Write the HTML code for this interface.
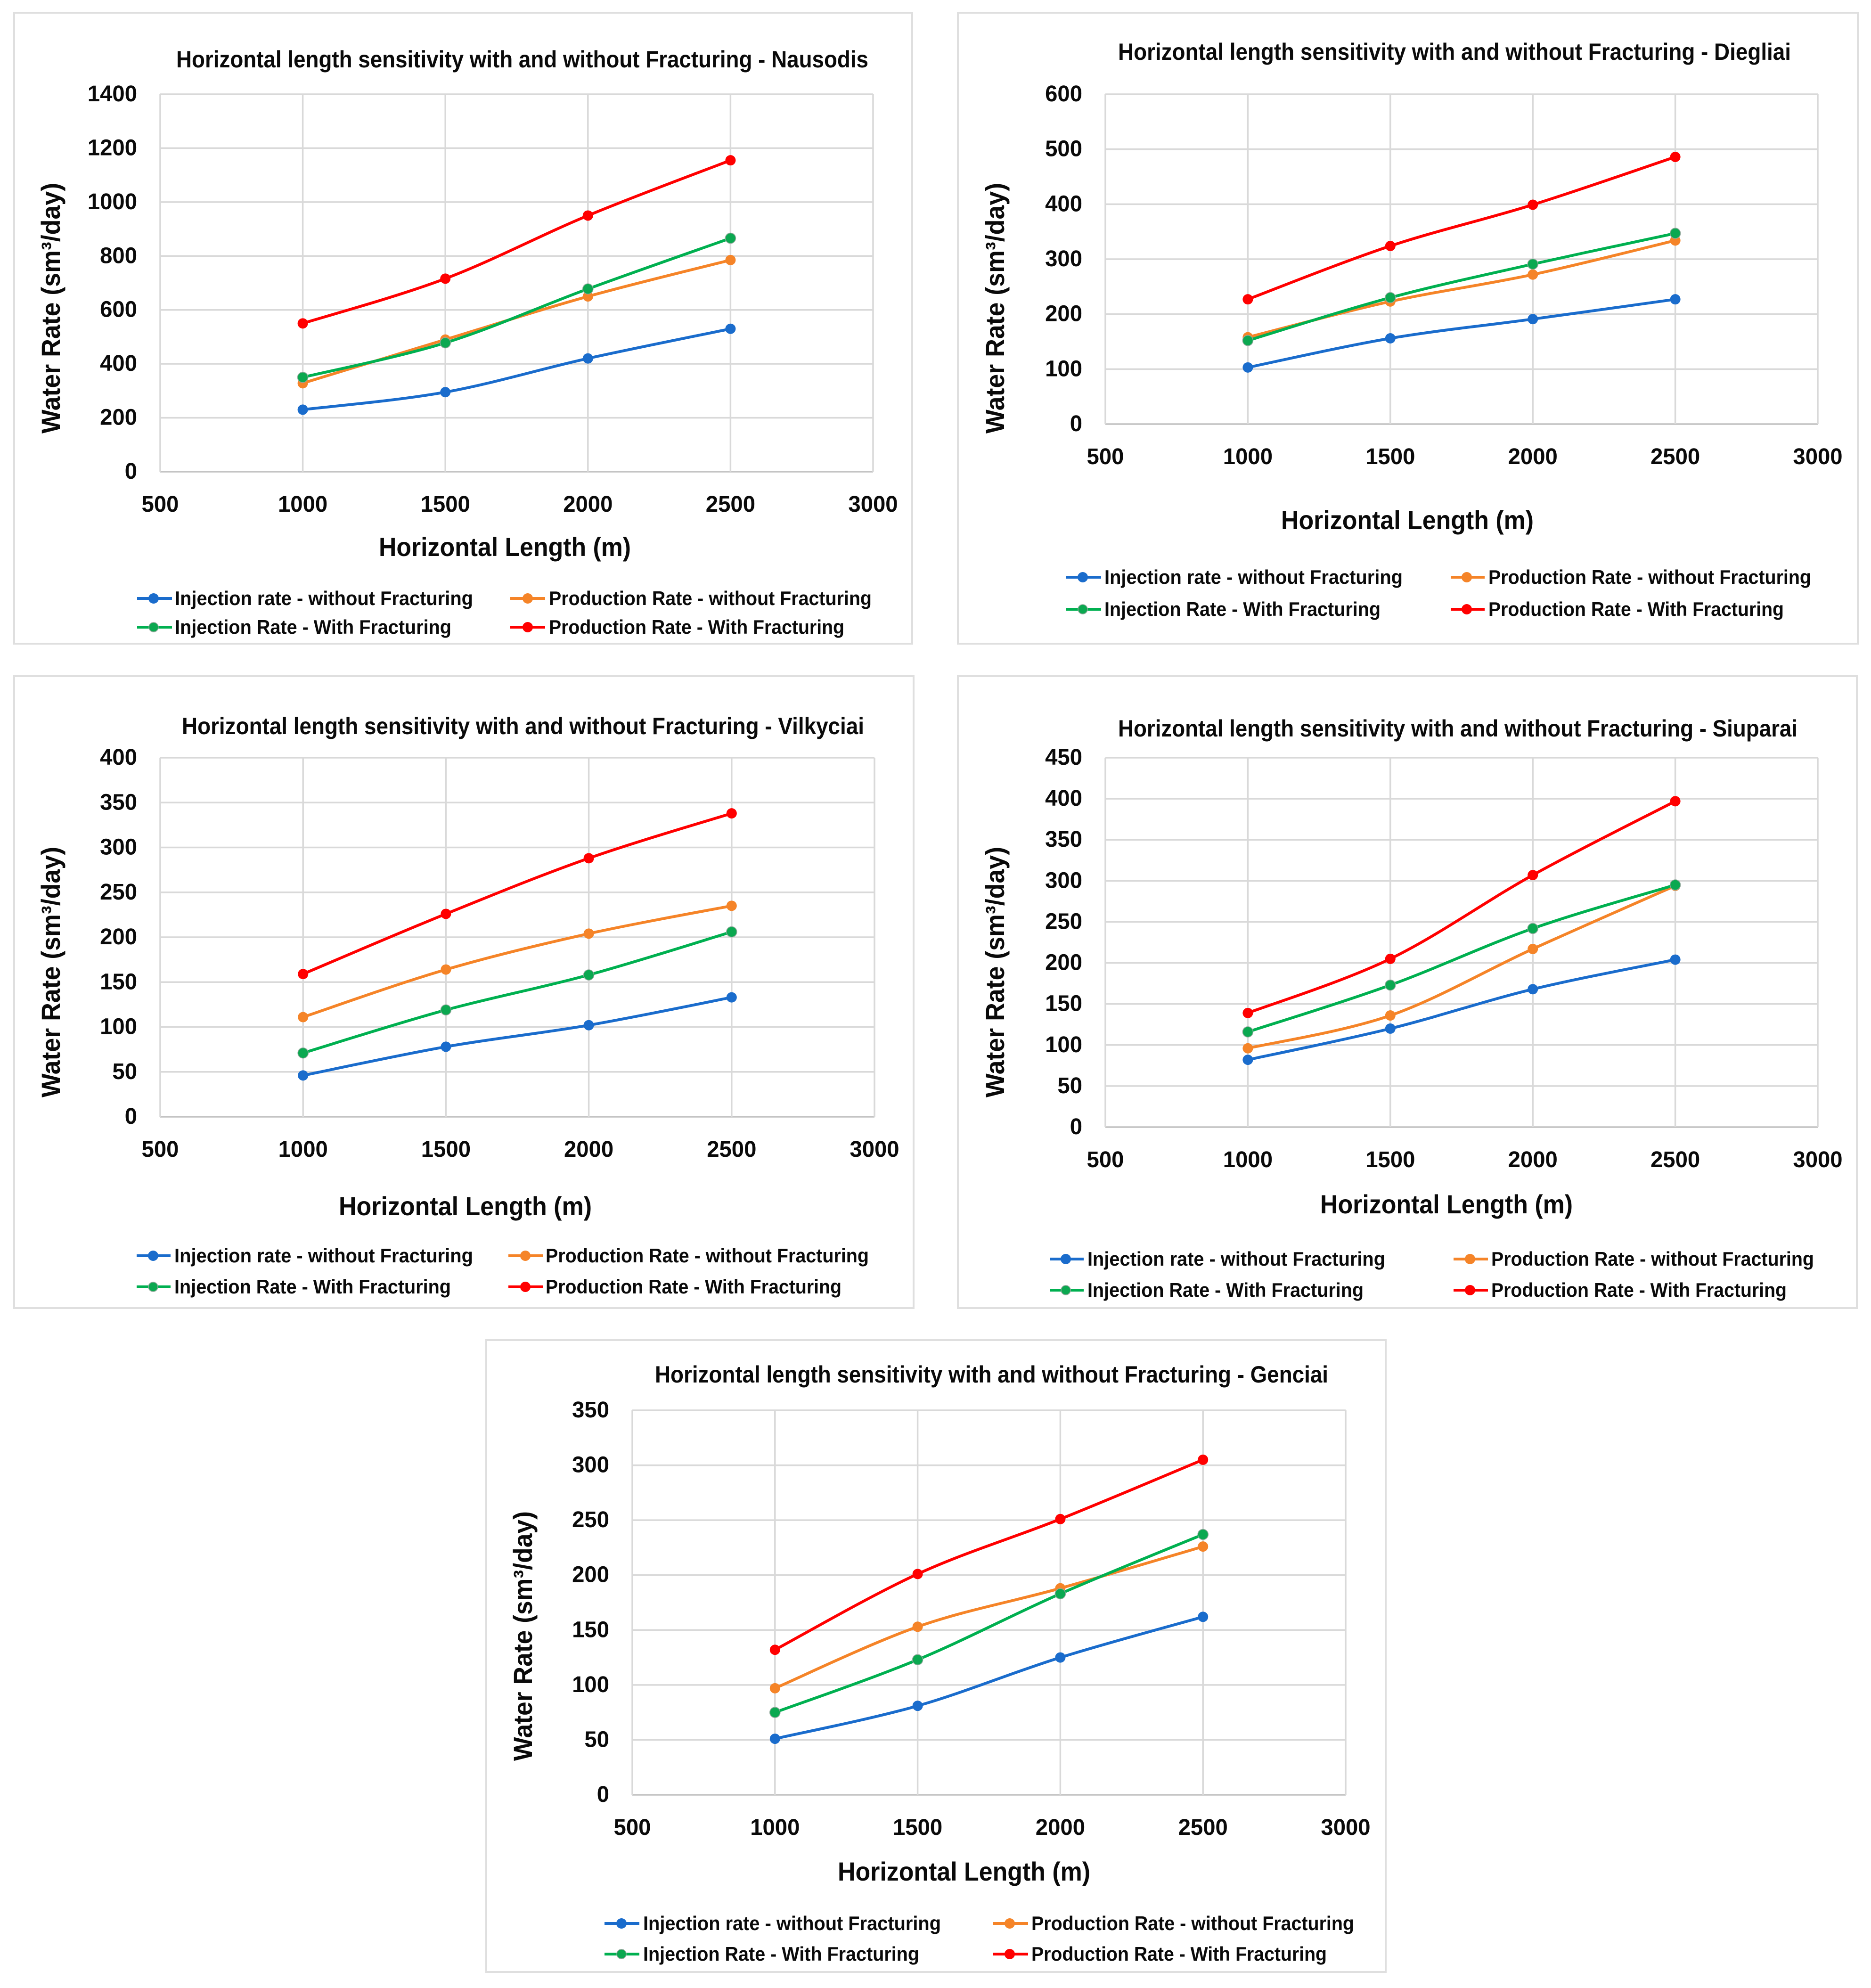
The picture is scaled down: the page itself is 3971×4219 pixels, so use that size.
<!DOCTYPE html>
<html lang="en">
<head>
<meta charset="utf-8">
<title>Horizontal length sensitivity with and without Fracturing</title>
<style>
html,body{margin:0;padding:0;background:#fff;}
svg{display:block;}
text{font-family:"Liberation Sans",sans-serif;font-weight:700;fill:#0a0a0a;}
.title{font-size:50px;}
.xt{font-size:56px;}
.yt{font-size:56px;}
.lg{font-size:42px;}
.frame{fill:#fff;stroke:#dfdfdf;stroke-width:4;}
.s1{stroke:#1a6ccc;stroke-width:6;}
.s2{stroke:#f58428;stroke-width:6;}
.s3{stroke:#00b050;stroke-width:6;}
.s4{stroke:#ff0000;stroke-width:6;}
.m1{fill:#1a6ccc;}
.m2{fill:#f58428;}
.m3{fill:#0ba850;stroke:#8fa89a;stroke-width:1.5;}
.m4{fill:#ff0000;}
</style>
</head>
<body>
<svg xmlns="http://www.w3.org/2000/svg" width="3971" height="4219" viewBox="0 0 3971 4219">
<rect width="3971" height="4219" fill="#fff"/>

<g>
<rect class="frame" x="30" y="27" width="1906" height="1339"/>
<text class="title" x="374" y="143" textLength="1469" lengthAdjust="spacingAndGlyphs">Horizontal length sensitivity with and without Fracturing - Nausodis</text>
<g id="plot-nausodis"></g>
<text class="xt" x="804" y="1180" textLength="535" lengthAdjust="spacingAndGlyphs">Horizontal Length (m)</text>
<text class="yt" x="0" y="0" transform="translate(127 920) rotate(-90)" textLength="532" lengthAdjust="spacingAndGlyphs">Water Rate (sm³/day)</text>
<g>
<line class="s1" x1="291" x2="365" y1="1270" y2="1270"/><circle class="m1" cx="326" cy="1270" r="11"/>
<text class="lg" x="371" y="1284" textLength="633" lengthAdjust="spacingAndGlyphs">Injection rate - without Fracturing</text>
<line class="s2" x1="1083" x2="1157" y1="1270" y2="1270"/><circle class="m2" cx="1120" cy="1270" r="11"/>
<text class="lg" x="1165" y="1284" textLength="685" lengthAdjust="spacingAndGlyphs">Production Rate - without Fracturing</text>
<line class="s3" x1="291" x2="365" y1="1331" y2="1331"/><circle class="m3" cx="326" cy="1331" r="10"/>
<text class="lg" x="371" y="1345" textLength="587" lengthAdjust="spacingAndGlyphs">Injection Rate - With Fracturing</text>
<line class="s4" x1="1083" x2="1157" y1="1331" y2="1331"/><circle class="m4" cx="1120" cy="1331" r="11"/>
<text class="lg" x="1165" y="1345" textLength="627" lengthAdjust="spacingAndGlyphs">Production Rate - With Fracturing</text>
</g>
</g>

<g>
<rect class="frame" x="2033" y="27" width="1910" height="1339"/>
<text class="title" x="2373" y="127" textLength="1428" lengthAdjust="spacingAndGlyphs">Horizontal length sensitivity with and without Fracturing - Diegliai</text>
<g id="plot-diegliai"></g>
<text class="xt" x="2719" y="1123" textLength="536" lengthAdjust="spacingAndGlyphs">Horizontal Length (m)</text>
<text class="yt" x="0" y="0" transform="translate(2131 920) rotate(-90)" textLength="532" lengthAdjust="spacingAndGlyphs">Water Rate (sm³/day)</text>
<g>
<line class="s1" x1="2263" x2="2337" y1="1225" y2="1225"/><circle class="m1" cx="2298" cy="1225" r="11"/>
<text class="lg" x="2344" y="1239" textLength="633" lengthAdjust="spacingAndGlyphs">Injection rate - without Fracturing</text>
<line class="s2" x1="3079" x2="3151" y1="1225" y2="1225"/><circle class="m2" cx="3113" cy="1225" r="11"/>
<text class="lg" x="3159" y="1239" textLength="685" lengthAdjust="spacingAndGlyphs">Production Rate - without Fracturing</text>
<line class="s3" x1="2263" x2="2337" y1="1293" y2="1293"/><circle class="m3" cx="2298" cy="1293" r="10"/>
<text class="lg" x="2344" y="1307" textLength="586" lengthAdjust="spacingAndGlyphs">Injection Rate - With Fracturing</text>
<line class="s4" x1="3079" x2="3151" y1="1293" y2="1293"/><circle class="m4" cx="3113" cy="1293" r="11"/>
<text class="lg" x="3159" y="1307" textLength="627" lengthAdjust="spacingAndGlyphs">Production Rate - With Fracturing</text>
</g>
</g>

<g>
<rect class="frame" x="30" y="1435" width="1909" height="1341"/>
<text class="title" x="386" y="1558" textLength="1448" lengthAdjust="spacingAndGlyphs">Horizontal length sensitivity with and without Fracturing - Vilkyciai</text>
<g id="plot-vilkyciai"></g>
<text class="xt" x="719" y="2579" textLength="537" lengthAdjust="spacingAndGlyphs">Horizontal Length (m)</text>
<text class="yt" x="0" y="0" transform="translate(127 2329) rotate(-90)" textLength="532" lengthAdjust="spacingAndGlyphs">Water Rate (sm³/day)</text>
<g>
<line class="s1" x1="290" x2="362" y1="2665" y2="2665"/><circle class="m1" cx="325" cy="2665" r="11"/>
<text class="lg" x="370" y="2679" textLength="634" lengthAdjust="spacingAndGlyphs">Injection rate - without Fracturing</text>
<line class="s2" x1="1079" x2="1153" y1="2665" y2="2665"/><circle class="m2" cx="1115" cy="2665" r="11"/>
<text class="lg" x="1158" y="2679" textLength="686" lengthAdjust="spacingAndGlyphs">Production Rate - without Fracturing</text>
<line class="s3" x1="290" x2="362" y1="2731" y2="2731"/><circle class="m3" cx="325" cy="2731" r="10"/>
<text class="lg" x="370" y="2745" textLength="587" lengthAdjust="spacingAndGlyphs">Injection Rate - With Fracturing</text>
<line class="s4" x1="1079" x2="1153" y1="2731" y2="2731"/><circle class="m4" cx="1115" cy="2731" r="11"/>
<text class="lg" x="1158" y="2745" textLength="628" lengthAdjust="spacingAndGlyphs">Production Rate - With Fracturing</text>
</g>
</g>

<g>
<rect class="frame" x="2033" y="1435" width="1908" height="1341"/>
<text class="title" x="2373" y="1563" textLength="1442" lengthAdjust="spacingAndGlyphs">Horizontal length sensitivity with and without Fracturing - Siuparai</text>
<g id="plot-siuparai"></g>
<text class="xt" x="2802" y="2575" textLength="536" lengthAdjust="spacingAndGlyphs">Horizontal Length (m)</text>
<text class="yt" x="0" y="0" transform="translate(2131 2329) rotate(-90)" textLength="532" lengthAdjust="spacingAndGlyphs">Water Rate (sm³/day)</text>
<g>
<line class="s1" x1="2228" x2="2300" y1="2672" y2="2672"/><circle class="m1" cx="2262" cy="2672" r="11"/>
<text class="lg" x="2308" y="2686" textLength="632" lengthAdjust="spacingAndGlyphs">Injection rate - without Fracturing</text>
<line class="s2" x1="3085" x2="3158" y1="2672" y2="2672"/><circle class="m2" cx="3120" cy="2672" r="11"/>
<text class="lg" x="3165" y="2686" textLength="685" lengthAdjust="spacingAndGlyphs">Production Rate - without Fracturing</text>
<line class="s3" x1="2228" x2="2300" y1="2738" y2="2738"/><circle class="m3" cx="2262" cy="2738" r="10"/>
<text class="lg" x="2308" y="2752" textLength="586" lengthAdjust="spacingAndGlyphs">Injection Rate - With Fracturing</text>
<line class="s4" x1="3085" x2="3158" y1="2738" y2="2738"/><circle class="m4" cx="3120" cy="2738" r="11"/>
<text class="lg" x="3165" y="2752" textLength="627" lengthAdjust="spacingAndGlyphs">Production Rate - With Fracturing</text>
</g>
</g>

<g>
<rect class="frame" x="1032" y="2844" width="1909" height="1341"/>
<text class="title" x="1390" y="2934" textLength="1429" lengthAdjust="spacingAndGlyphs">Horizontal length sensitivity with and without Fracturing - Genciai</text>
<g id="plot-genciai"></g>
<text class="xt" x="1778" y="3991" textLength="536" lengthAdjust="spacingAndGlyphs">Horizontal Length (m)</text>
<text class="yt" x="0" y="0" transform="translate(1129 3737) rotate(-90)" textLength="530" lengthAdjust="spacingAndGlyphs">Water Rate (sm³/day)</text>
<g>
<line class="s1" x1="1283" x2="1357" y1="4082" y2="4082"/><circle class="m1" cx="1319" cy="4082" r="11"/>
<text class="lg" x="1365" y="4096" textLength="632" lengthAdjust="spacingAndGlyphs">Injection rate - without Fracturing</text>
<line class="s2" x1="2108" x2="2182" y1="4082" y2="4082"/><circle class="m2" cx="2143" cy="4082" r="11"/>
<text class="lg" x="2189" y="4096" textLength="685" lengthAdjust="spacingAndGlyphs">Production Rate - without Fracturing</text>
<line class="s3" x1="1283" x2="1357" y1="4147" y2="4147"/><circle class="m3" cx="1319" cy="4147" r="10"/>
<text class="lg" x="1365" y="4161" textLength="586" lengthAdjust="spacingAndGlyphs">Injection Rate - With Fracturing</text>
<line class="s4" x1="2108" x2="2182" y1="4147" y2="4147"/><circle class="m4" cx="2143" cy="4147" r="11"/>
<text class="lg" x="2189" y="4161" textLength="627" lengthAdjust="spacingAndGlyphs">Production Rate - With Fracturing</text>
</g>
</g>
</svg>

<script>
const horizontalLengths = [1000, 1500, 2000, 2500];
const xTickLabels = [500, 1000, 1500, 2000, 2500, 3000];

const nausodisYTicks = [0, 200, 400, 600, 800, 1000, 1200, 1400];
const nausodisInjectionWithout = [230, 295, 420, 530];
const nausodisProductionWithout = [328, 490, 650, 785];
const nausodisInjectionWith = [350, 478, 678, 866];
const nausodisProductionWith = [550, 716, 950, 1155];

const diegliaiYTicks = [0, 100, 200, 300, 400, 500, 600];
const diegliaiInjectionWithout = [103, 156, 191, 227];
const diegliaiProductionWithout = [158, 223, 272, 334];
const diegliaiInjectionWith = [152, 230, 291, 347];
const diegliaiProductionWith = [227, 324, 399, 486];

const vilkyciaiYTicks = [0, 50, 100, 150, 200, 250, 300, 350, 400];
const vilkyciaiInjectionWithout = [46, 78, 102, 133];
const vilkyciaiProductionWithout = [111, 164, 204, 235];
const vilkyciaiInjectionWith = [71, 119, 158, 206];
const vilkyciaiProductionWith = [159, 226, 288, 338];

const siuparaiYTicks = [0, 50, 100, 150, 200, 250, 300, 350, 400, 450];
const siuparaiInjectionWithout = [82, 120, 168, 204];
const siuparaiProductionWithout = [96, 136, 217, 294];
const siuparaiInjectionWith = [116, 173, 242, 295];
const siuparaiProductionWith = [139, 205, 307, 397];

const genciaiYTicks = [0, 50, 100, 150, 200, 250, 300, 350];
const genciaiInjectionWithout = [51, 81, 125, 162];
const genciaiProductionWithout = [97, 153, 188, 226];
const genciaiInjectionWith = [75, 123, 183, 237];
const genciaiProductionWith = [132, 201, 251, 305];

const svgNS = 'http://www.w3.org/2000/svg';
const xMin = 500;
const xMax = 3000;

function xAxis(value, plot) {
  return plot.left + (value - xMin) / (xMax - xMin) * (plot.right - plot.left);
}
function yAxis(value, plot, yMax) {
  return plot.bottom - value / yMax * (plot.bottom - plot.top);
}
function smoothPath(pts) {
  let d = 'M' + pts[0][0].toFixed(1) + ' ' + pts[0][1].toFixed(1);
  for (let i = 0; i < pts.length - 1; i++) {
    const p0 = pts[Math.max(0, i - 1)];
    const p1 = pts[i];
    const p2 = pts[i + 1];
    const p3 = pts[Math.min(pts.length - 1, i + 2)];
    const c1x = p1[0] + (p2[0] - p0[0]) / 6;
    const c1y = p1[1] + (p2[1] - p0[1]) / 6;
    const c2x = p2[0] - (p3[0] - p1[0]) / 6;
    const c2y = p2[1] - (p3[1] - p1[1]) / 6;
    d += 'C' + c1x.toFixed(1) + ' ' + c1y.toFixed(1) + ' ' + c2x.toFixed(1) + ' ' + c2y.toFixed(1) + ' ' + p2[0].toFixed(1) + ' ' + p2[1].toFixed(1);
  }
  return d;
}

function drawChart(id, plot, yTicks, seriesList) {
  const root = document.getElementById(id);
  const yMax = yTicks[yTicks.length - 1];
  const tickSize = 48;
  const digitWidth = 26.3;

  yTicks.forEach(function (tick) {
    const y = yAxis(tick, plot, yMax);
    const grid = document.createElementNS(svgNS, 'line');
    
    
    grid.setAttribute('x1', plot.left);
    grid.setAttribute('x2', plot.right);
    grid.setAttribute('y1', y);
    grid.setAttribute('y2', y);
    grid.setAttribute('stroke', tick === 0 ? '#c4c4c4' : '#d9d9d9');
    grid.setAttribute('stroke-width', '3.5');
    root.appendChild(grid);

    const label = document.createElementNS(svgNS, 'text');
    
    
    label.setAttribute('x', plot.left - 49);
    label.setAttribute('y', y + 15);
    label.setAttribute('text-anchor', 'end');
    label.setAttribute('font-size', tickSize);
    label.setAttribute('textLength', String(tick).length * digitWidth);
    label.setAttribute('lengthAdjust', 'spacingAndGlyphs');
    label.textContent = tick;
    root.appendChild(label);
  });

  xTickLabels.forEach(function (tick) {
    const x = xAxis(tick, plot);
    const grid = document.createElementNS(svgNS, 'line');
    
    
    grid.setAttribute('x1', x);
    grid.setAttribute('x2', x);
    grid.setAttribute('y1', plot.top);
    grid.setAttribute('y2', plot.bottom);
    grid.setAttribute('stroke', '#d9d9d9');
    grid.setAttribute('stroke-width', '3.5');
    root.appendChild(grid);

    const label = document.createElementNS(svgNS, 'text');
    
    
    label.setAttribute('x', x);
    label.setAttribute('y', plot.bottom + 85);
    label.setAttribute('text-anchor', 'middle');
    label.setAttribute('font-size', tickSize);
    label.setAttribute('textLength', String(tick).length * digitWidth);
    label.setAttribute('lengthAdjust', 'spacingAndGlyphs');
    label.textContent = tick;
    root.appendChild(label);
  });

  seriesList.forEach(function (series) {
    const pts = series.values.map(function (v, i) {
      return [xAxis(horizontalLengths[i], plot), yAxis(v, plot, yMax)];
    });
    const path = document.createElementNS(svgNS, 'path');
    
    
    path.setAttribute('d', smoothPath(pts));
    path.setAttribute('fill', 'none');
    path.setAttribute('class', series.line);
    path.setAttribute('stroke-linecap', 'round');
    root.appendChild(path);
    pts.forEach(function (pt) {
      const dot = document.createElementNS(svgNS, 'circle');
      
      
      dot.setAttribute('cx', pt[0]);
      dot.setAttribute('cy', pt[1]);
      dot.setAttribute('r', '11');
      dot.setAttribute('class', series.marker);
      root.appendChild(dot);
    });
  });
}

function makeSeries(a, b, c, d) {
  return [
    { name: 'injection-without-fracturing', values: a, line: 's1', marker: 'm1' },
    { name: 'production-without-fracturing', values: b, line: 's2', marker: 'm2' },
    { name: 'injection-with-fracturing', values: c, line: 's3', marker: 'm3' },
    { name: 'production-with-fracturing', values: d, line: 's4', marker: 'm4' }
  ];
}

drawChart('plot-nausodis', { left: 340, right: 1853, top: 200, bottom: 1001 }, nausodisYTicks,
  makeSeries(nausodisInjectionWithout, nausodisProductionWithout, nausodisInjectionWith, nausodisProductionWith));
drawChart('plot-diegliai', { left: 2346, right: 3858, top: 200, bottom: 900 }, diegliaiYTicks,
  makeSeries(diegliaiInjectionWithout, diegliaiProductionWithout, diegliaiInjectionWith, diegliaiProductionWith));
drawChart('plot-vilkyciai', { left: 340, right: 1856, top: 1608, bottom: 2370 }, vilkyciaiYTicks,
  makeSeries(vilkyciaiInjectionWithout, vilkyciaiProductionWithout, vilkyciaiInjectionWith, vilkyciaiProductionWith));
drawChart('plot-siuparai', { left: 2346, right: 3858, top: 1608, bottom: 2392 }, siuparaiYTicks,
  makeSeries(siuparaiInjectionWithout, siuparaiProductionWithout, siuparaiInjectionWith, siuparaiProductionWith));
drawChart('plot-genciai', { left: 1342, right: 2856, top: 2993, bottom: 3809 }, genciaiYTicks,
  makeSeries(genciaiInjectionWithout, genciaiProductionWithout, genciaiInjectionWith, genciaiProductionWith));
</script>
</body>
</html>
